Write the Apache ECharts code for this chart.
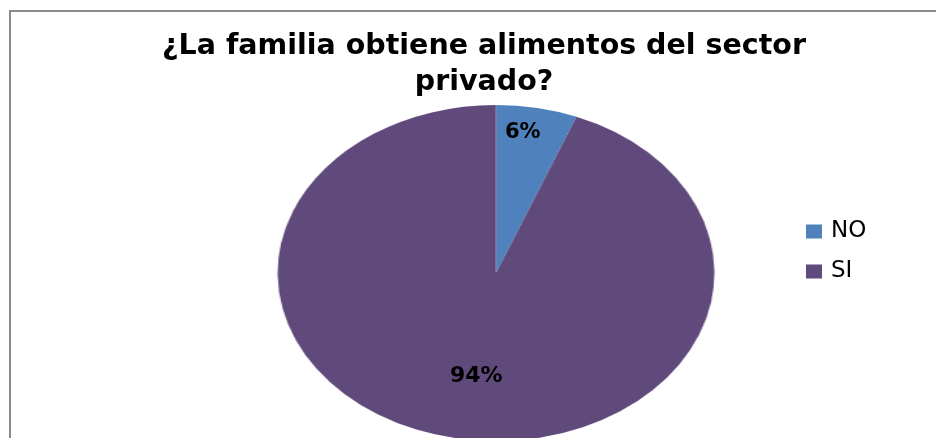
<!DOCTYPE html>
<html>
<head>
<meta charset="utf-8">
<script src="https://cdn.jsdelivr.net/npm/echarts@6/dist/echarts.min.js"></script>
<style>
  html, body { margin: 0; padding: 0; background: #fff; overflow: hidden; }
  #wrap { position: relative; width: 936px; height: 438px; overflow: hidden; }
  #hline { position: absolute; left: 9px; top: 10px; width: 927px; height: 2px; background: #8a8a8a; }
  #vline { position: absolute; left: 9px; top: 10px; width: 2px; height: 428px; background: #8a8a8a; }
  #pie { position: absolute; left: 0; top: 0; width: 720px; height: 438px;
         transform: scaleX(1.3); transform-origin: 0 0; }
  #top { position: absolute; left: 0; top: 0; width: 936px; height: 438px; }
</style>
</head>
<body>
<div id="wrap">
  <div id="hline"></div>
  <div id="vline"></div>
  <div id="pie"></div>
  <div id="top"></div>
</div>
<script>
const titleText = '¿La familia obtiene alimentos del sector\nprivado?';
const categories = ['NO', 'SI'];
const values = [6, 94];
const labels = ['6%', '94%'];
const colors = ['#4F81BD', '#604A7B'];

const STRETCH = 1.3;
const CX = 496, CY = 273, R = 168;

// Elliptical pie (stretched horizontally like the original)
const pieChart = echarts.init(document.getElementById('pie'), null, { renderer: 'canvas' });
pieChart.setOption({
  animation: false,
  series: [{
    type: 'pie',
    center: [CX / STRETCH, CY],
    radius: [0, R],
    startAngle: 90,
    clockwise: true,
    silent: true,
    label: { show: false },
    labelLine: { show: false },
    itemStyle: { borderWidth: 0 },
    data: categories.map((c, i) => ({ name: c, value: values[i], itemStyle: { color: colors[i] } }))
  }]
});

// Overlay: title, legend, labels
const topChart = echarts.init(document.getElementById('top'), null, { renderer: 'canvas' });
function labelSeries(showIdx, inner, size) {
  return {
    type: 'pie',
    center: [CX, CY],
    radius: [inner, R],
    startAngle: 90,
    clockwise: true,
    silent: true,
    itemStyle: { color: 'rgba(0,0,0,0)', borderWidth: 0 },
    labelLine: { show: false },
    label: { show: false },
    emphasis: { disabled: true },
    data: categories.map((c, i) => ({
      name: c, value: values[i],
      label: {
        show: i === showIdx, position: 'inside', formatter: labels[i],
        color: '#000', fontFamily: 'DejaVu Sans', fontWeight: 'bold', fontSize: size
      }
    }))
  };
}
topChart.setOption({
  animation: false,
  title: {
    text: titleText,
    left: 484,
    textAlign: 'center',
    top: 29,
    padding: 0,
    textStyle: { fontFamily: 'DejaVu Sans', fontWeight: 'bold', fontSize: 28.5, lineHeight: 36, color: '#000' }
  },
  legend: {
    orient: 'vertical',
    left: 806,
    top: 220,
    padding: 0,
    itemWidth: 16,
    itemHeight: 14,
    itemGap: 17,
    icon: 'rect',
    selectedMode: false,
    textStyle: { fontFamily: 'DejaVu Sans', fontSize: 23, color: '#000', padding: [0, 0, 0, 4] },
    data: categories.map((c, i) => ({ name: c, itemStyle: { color: colors[i] } }))
  },
  series: [labelSeries(0, 112, 21), labelSeries(1, 36, 22)]
});
</script>
</body>
</html>
